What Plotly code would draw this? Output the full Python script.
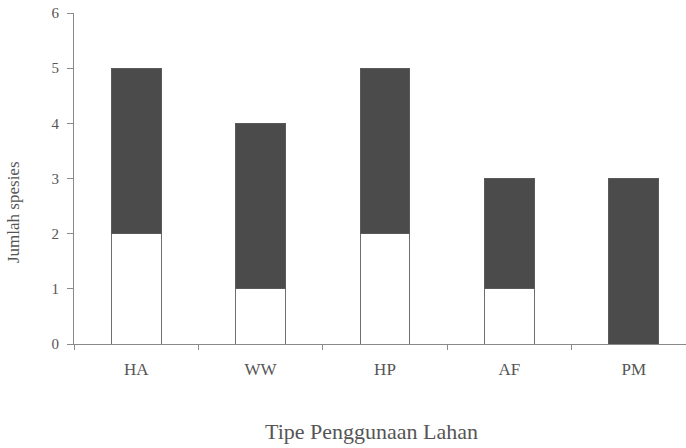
import plotly.graph_objects as go

categories = ["HA", "WW", "HP", "AF", "PM"]
lower_values = [2, 1, 2, 1, 0]
upper_values = [3, 3, 3, 2, 3]
y_ticks = [0, 1, 2, 3, 4, 5, 6]

W, H = 686, 448
ML, MR, MT, MB = 74, 0, 13, 104

fig = go.Figure()
fig.add_trace(go.Bar(x=categories, y=lower_values,
                     marker=dict(color="white", line=dict(color="#6f6f6f", width=1)),
                     width=0.4, showlegend=False))
fig.add_trace(go.Bar(x=categories, y=upper_values,
                     marker=dict(color="#4b4b4b", line=dict(color="#5a5a5a", width=1)),
                     width=0.4, showlegend=False))

font = "Liberation Serif, Times New Roman, serif"
pw, ph = W - ML - MR, H - MT - MB
fig.update_layout(
    width=W, height=H, barmode="stack",
    margin=dict(l=ML, r=MR, t=MT, b=MB, autoexpand=False),
    paper_bgcolor="white", plot_bgcolor="white",
    font=dict(family=font, size=14, color="#555"),
    xaxis=dict(type="category", range=[-0.5, 4.42], showline=True, linecolor="#8a8a8a", linewidth=1,
               ticks="outside", tickson="boundaries", ticklen=5, tickcolor="#8a8a8a",
               showgrid=False, zeroline=False, automargin=False,
               tickfont=dict(size=17, color="#555"), ticklabelstandoff=10),
    yaxis=dict(range=[0, 6], tickvals=y_ticks, showline=True, linecolor="#8a8a8a", linewidth=1,
               ticks="outside", ticklen=6, tickcolor="#8a8a8a", showgrid=False, zeroline=False,
               automargin=False, tickfont=dict(size=15, color="#555"), ticklabelstandoff=5,
               ticklabeloverflow="allow"),
    annotations=[
        dict(text="Jumlah spesies", xref="paper", yref="paper",
             x=(13 - ML) / pw, y=(H - MB - 212) / ph,
             textangle=-90, showarrow=False, font=dict(size=17, color="#555"),
             xanchor="center", yanchor="middle"),
        dict(text="Tipe Penggunaan Lahan", xref="paper", yref="paper",
             x=(371 - ML) / pw, y=(H - MB - 431) / ph,
             showarrow=False, font=dict(size=22, color="#555"),
             xanchor="center", yanchor="middle"),
    ],
)
fig.write_html("out.html", config={"displayModeBar": False},
               post_script="document.body.style.margin='0';document.body.style.overflow='hidden';")
